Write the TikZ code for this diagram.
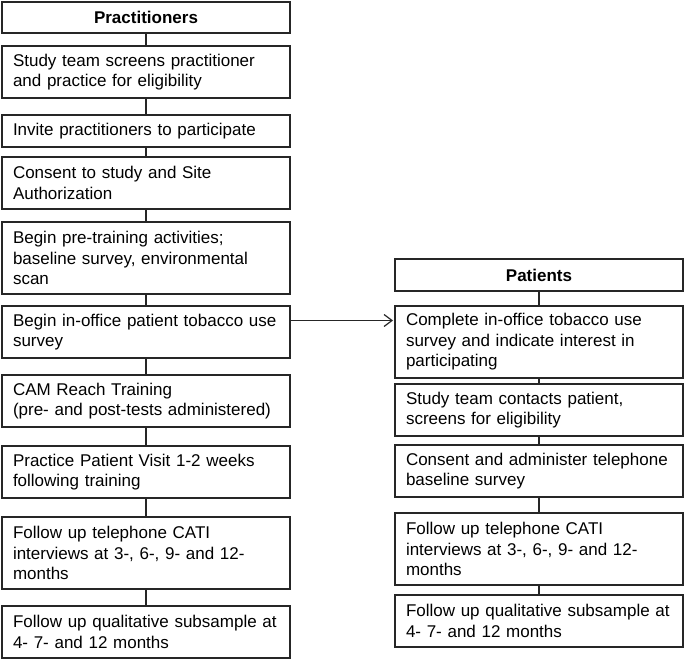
\documentclass[tikz,border=0pt]{standalone}
\usepackage{fontspec}
\setmainfont{Liberation Sans}
\usetikzlibrary{arrows.meta,positioning}
\tikzset{
    %Define standard arrow tip
    >={Straight Barb[length=8pt,width=12pt]},
    %Define style for boxes
    stage/.style={
           rectangle,
           draw=black!85, line width=1.2pt,
           text width=266pt,
           inner xsep=11pt,
           inner ysep=2pt,
           outer sep=0pt,
           minimum height=32pt,
           font=\fontsize{17}{20.5}\selectfont,
           align=left},
    heading/.style={
           stage,
           minimum height=31pt,
           align=center,
           font=\fontsize{17}{20.5}\selectfont\bfseries},
    twoline/.style={
           stage,
           minimum height=52pt},
    threeline/.style={
           stage,
           minimum height=72pt},
    % Define line style
    link/.style={
           draw=black!85,
           line width=1.2pt}
}
\begin{document}
\begin{tikzpicture}[x=1pt,y=1pt]
\useasboundingbox (0,0) rectangle (685,-661);
% practitioners
\node[heading] (prac) at (146,-17.5) {Practitioners};
\node[twoline, below=13pt of prac] (screen) {Study team screens practitioner\\and practice for eligibility};
\node[stage, below=17pt of screen] (invite) {Invite practitioners to participate};
\node[twoline, below=10pt of invite] (consent) {Consent to study and Site\\Authorization};
\node[threeline, below=13pt of consent] (pretrain) {Begin pre-training activities;\\baseline survey, environmental\\scan};
\node[twoline, below=12pt of pretrain] (ins) {Begin in-office patient tobacco use\\survey};
\node[twoline, below=17pt of ins] (cam) {CAM Reach Training\\(pre- and post-tests administered)};
\node[twoline, below=19pt of cam] (visit) {Practice Patient Visit 1-2 weeks\\following training};
\node[threeline, below=19pt of visit] (cati) {Follow up telephone CATI\\interviews at 3-, 6-, 9- and 12-\\months};
\node[twoline, below=17pt of cati] (qual) {Follow up qualitative subsample at\\4- 7- and 12 months};
% patients
\node[threeline, anchor=north west] (survey) at ([xshift=105pt]ins.north east) {Complete in-office tobacco use\\survey and indicate interest in\\participating};
\node[heading, minimum height=32pt, above=15pt of survey] (phead) {Patients};
\node[twoline, below=6pt of survey] (contact) {Study team contacts patient,\\screens for eligibility};
\node[twoline, below=9pt of contact] (baseline) {Consent and administer telephone\\baseline survey};
\node[threeline, below=16pt of baseline] (pcati) {Follow up telephone CATI\\interviews at 3-, 6-, 9- and 12-\\months};
\node[twoline, below=10pt of pcati] (pqual) {Follow up qualitative subsample at\\4- 7- and 12 months};
\path[link]
    (prac) edge (screen)
    (screen) edge (invite)
    (invite) edge (consent)
    (consent) edge (pretrain)
    (pretrain) edge (ins)
    (ins) edge (cam)
    (cam) edge (visit)
    (visit) edge (cati)
    (cati) edge (qual)
    (phead) edge (survey)
    (survey) edge (contact)
    (contact) edge (baseline)
    (baseline) edge (pcati)
    (pcati) edge (pqual);
\draw[link,->,shorten >=2pt] ([yshift=-14.5pt]ins.north east) -- ([yshift=-14.5pt]survey.north west);
\end{tikzpicture}
\end{document}
